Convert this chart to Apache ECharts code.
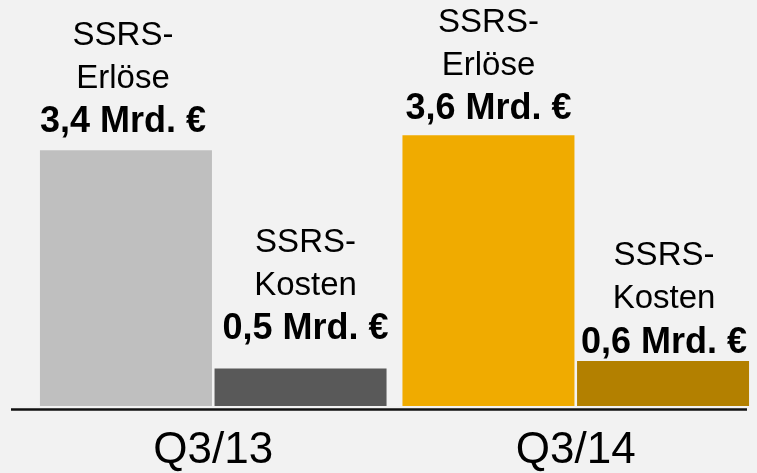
<!DOCTYPE html>
<html>
<head>
<meta charset="utf-8">
<script src="https://cdn.jsdelivr.net/npm/echarts@6/dist/echarts.min.js"></script>
<style>
  html, body { margin: 0; padding: 0; background: #f2f2f2; }
  #chart { width: 757px; height: 473px; }
</style>
</head>
<body>
<div id="chart"></div>
<script>
// Werte aus dem Bild (Mrd. €)
const categories = ['Q3/13', 'Q3/14'];
const erloese = [3.4, 3.6];
const kosten = [0.5, 0.6];

const erloeseColors = ['#bfbfbf', '#f0ab00'];
const kostenColors = ['#595959', '#b38000'];

// label nudges: [dx, distance above bar]
const erloeseLabelPos = [[-3, 6], [0, 4]];
const kostenLabelPos = [[5, 17], [1, -4]];

const FONT = 'Liberation Sans, Arial, sans-serif';

function fmt(v) {
    return v.toFixed(1).replace('.', ',') + ' Mrd. €';
}

function buildData(values, colors, pos, name) {
    return values.map(function (v, i) {
        return {
            value: v,
            itemStyle: { color: colors[i] },
            label: {
                distance: pos[i][1],
                offset: [pos[i][0], 0],
                formatter: '{n|SSRS-}\n{n|' + name + '}\n{b|' + fmt(v) + '}'
            }
        };
    });
}

const labelBase = {
    show: true,
    position: 'top',
    color: '#000',
    fontFamily: FONT,
    rich: {
        n: { fontSize: 33, lineHeight: 43, color: '#000', fontFamily: FONT },
        b: { fontSize: 36, lineHeight: 44, fontWeight: 'bold', color: '#000', fontFamily: FONT }
    }
};

let chart = echarts.init(document.getElementById('chart'));

chart.setOption({
    backgroundColor: '#f2f2f2',
    animation: false,
    grid: { left: 32, width: 726, top: 30, bottom: 65 },
    xAxis: {
        type: 'category',
        data: categories,
        axisLine: { show: false },
        axisTick: { show: false },
        axisLabel: { fontSize: 44, color: '#000', fontFamily: FONT, margin: 23 }
    },
    yAxis: {
        type: 'value',
        min: 0,
        max: 5,
        show: false
    },
    series: [
        {
            name: 'SSRS-Erlöse',
            type: 'bar',
            barWidth: 172,
            barGap: '1.5%',
            label: labelBase,
            data: buildData(erloese, erloeseColors, erloeseLabelPos, 'Erlöse')
        },
        {
            name: 'SSRS-Kosten',
            type: 'bar',
            barWidth: 172,
            label: labelBase,
            data: buildData(kosten, kostenColors, kostenLabelPos, 'Kosten')
        }
    ],
    // Grundlinie
    graphic: [{
        type: 'line',
        z: 10,
        shape: { x1: 11, y1: 409.5, x2: 747, y2: 409.5 },
        style: { stroke: '#111', lineWidth: 2.5 }
    }]
});
</script>
</body>
</html>
